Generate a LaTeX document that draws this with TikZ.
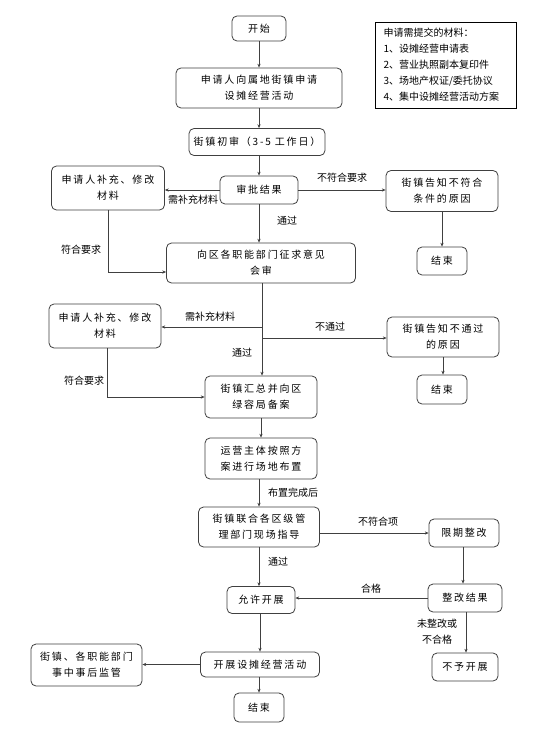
\documentclass[tikz,border=0pt]{standalone}
\usepackage{fontspec}
\setmainfont{Noto Sans CJK SC}
\newfontfamily\boxfont[LetterSpace=18]{Noto Sans CJK SC}
\usetikzlibrary{arrows.meta}

\begin{document}
\begin{tikzpicture}[x=1pt,y=-1pt,
		box/.style={draw=black!75,line width=0.8pt,rounded corners=5pt,align=center,inner sep=0pt,font={\boxfont\fontsize{10}{16}\selectfont}},
		boxsize/.style 2 args={minimum width=#1,minimum height=#2},
		lbl/.style={inner sep=0pt,align=center,font={\fontsize{10}{16}\selectfont}},
		arr/.style={draw=black!75,line width=0.6pt,-{Stealth[length=3.8pt,width=3.2pt]}}]
		\useasboundingbox[fill=white] (0,0) rectangle (534,735);

		% main column
		\node[box,boxsize={54pt}{25pt}] (start) at (259,28.5) {开始};
		\node[box,boxsize={166pt}{40pt}] (apply) at (259,88) {申请人向属地街镇申请\\设摊经营活动};
		\node[box,boxsize={136pt}{27pt}] (first) at (257,142) {街镇初审（3-5 工作日）};
		\node[box,boxsize={78pt}{28pt}] (result) at (259,190) {审批结果};
		\node[box,boxsize={189pt}{40pt}] (consult) at (261,263) {向区各职能部门征求意见\\会审};
		\node[box,boxsize={112pt}{42pt}] (record) at (261,397) {街镇汇总并向区\\绿容局备案};
		\node[box,boxsize={112pt}{41pt}] (layout) at (261,458.5) {运营主体按照方\\案进行场地布置};
		\node[box,boxsize={121pt}{40pt}] (guide) at (259,527) {街镇联合各区级管\\理部门现场指导};
		\node[box,boxsize={68pt}{27pt}] (allow) at (261,600) {允许开展};
		\node[box,boxsize={119pt}{25pt}] (run) at (260,664.5) {开展设摊经营活动};
		\node[box,boxsize={50pt}{29pt}] (end3) at (259,707.5) {结束};

		% side boxes
		\node[box,boxsize={113pt}{44pt}] (supp1) at (108,188) {申请人补充、修改\\材料};
		\node[box,boxsize={112pt}{41pt}] (rej1) at (442,191) {街镇告知不符合\\条件的原因};
		\node[box,boxsize={50pt}{28pt}] (end1) at (442,261) {结束};
		\node[box,boxsize={112pt}{44pt}] (supp2) at (105,326) {申请人补充、修改\\材料};
		\node[box,boxsize={112pt}{40pt}] (rej2) at (443,337) {街镇告知不通过\\的原因};
		\node[box,boxsize={50pt}{29pt}] (end2) at (442,389.5) {结束};
		\node[box,boxsize={70pt}{28pt}] (rectify) at (464,533) {限期整改};
		\node[box,boxsize={74pt}{28pt}] (rectres) at (465,598) {整改结果};
		\node[box,boxsize={66pt}{28pt}] (deny) at (465,667) {不予开展};
		\node[box,boxsize={111pt}{42pt}] (supervise) at (86.5,665) {街镇、各职能部门\\事中事后监管};

		% materials list
		\node[draw=black,line width=0.9pt,boxsize={141pt}{86pt},text width=124pt,align=left,inner sep=0pt,font={\fontsize{10}{16}\selectfont}] (notes) at (445.5,65)
			{申请需提交的材料：\\1、设摊经营申请表\\2、营业执照副本复印件\\3、场地产权证/委托协议\\4、集中设摊经营活动方案};

		% connectors
		\draw[arr] (start.south) -- (start.south |- apply.north);
		\draw[arr] (apply.south) -- (apply.south |- first.north);
		\draw[arr] (result.north |- first.south) -- (result.north);
		\draw[arr] (result.south) -- (result.south |- consult.north);
		\draw[arr] (result.west) -- (result.west -| supp1.east);
		\draw[arr] (result.east) -- (result.east -| rej1.west);
		\draw[arr] (rej1.south) -- (rej1.south |- end1.north);
		\draw[arr] (supp1.south) |- ([yshift=-9pt]consult.west);

		\coordinate (bl) at (262,327);
		\coordinate (br) at (262,338);
		\draw[arr] (consult.south -| bl) -- (bl |- record.north);
		\draw[arr] (bl) -- (bl -| supp2.east);
		\draw[arr] (br) -- (br -| rej2.west);
		\draw[arr] (rej2.south) -- (rej2.south |- end2.north);
		\draw[arr] ([xshift=2pt]supp2.south) |- (record.west);

		\draw[arr] (record.south) -- (layout.north);
		\draw[arr] (layout.south -| guide.north) -- (guide.north);
		\draw[arr] (guide.east |- rectify.west) -- (rectify.west);
		\draw[arr] ([xshift=-1pt]rectify.south) -- ([xshift=-1pt]rectify.south |- rectres.north);
		\draw[arr] (rectres.west) -- (rectres.west -| allow.east);
		\draw[arr] ([xshift=1pt]rectres.south) -- ([xshift=1pt]rectres.south |- deny.north);
		\draw[arr] (guide.south) -- (guide.south |- allow.north);
		\draw[arr] (allow.south -| run.north) -- (run.north);
		\draw[arr] (run.west) -- (run.west -| supervise.east);
		\draw[arr] (run.south -| end3.north) -- (end3.north);

		% labels
		\node[lbl] (l1) at (342,178) {不符合要求};
		\node[lbl] (l2) at (193,200) {需补充材料};
		\node[lbl] (l3) at (287,221) {通过};
		\node[lbl] (l4) at (81,250) {符合要求};
		\node[lbl] (l5) at (210,317) {需补充材料};
		\node[lbl] (l6) at (330,327) {不通过};
		\node[lbl] (l7) at (242,353) {通过};
		\node[lbl] (l8) at (84,381) {符合要求};
		\node[lbl] (l9) at (293,493) {布置完成后};
		\node[lbl] (l10) at (378,522) {不符合项};
		\node[lbl] (l11) at (278,562) {通过};
		\node[lbl] (l12) at (371,589) {合格};
		\node[lbl] (l13) at (437,632) {未整改或\\不合格};
\end{tikzpicture}
\end{document}
